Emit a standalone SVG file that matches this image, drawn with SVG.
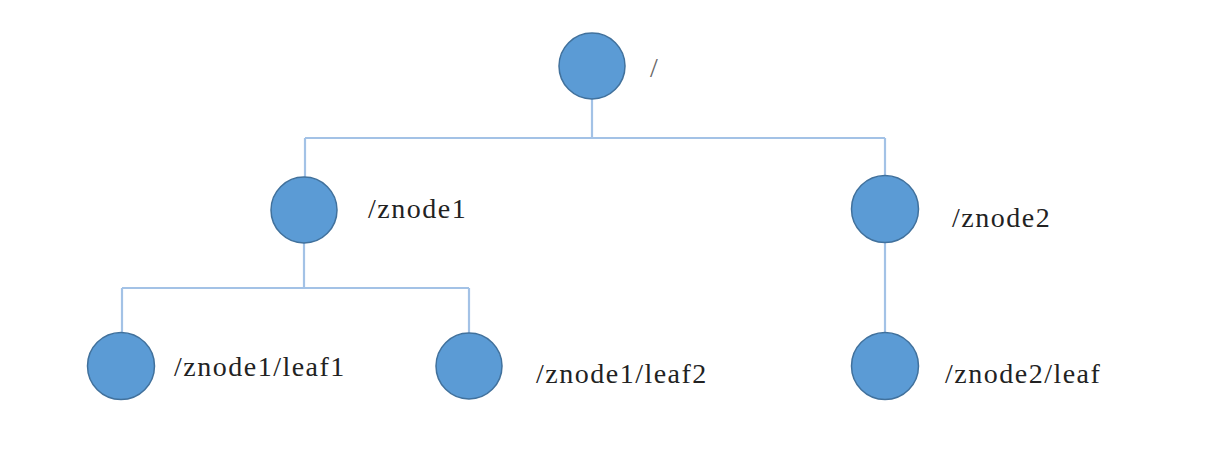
<svg xmlns="http://www.w3.org/2000/svg" width="1207" height="450" viewBox="0 0 1207 450">
<style>
.node{fill:#5B9BD5;stroke:#41719C;stroke-width:1.5}
.lbl{font-size:28px;fill:#222;letter-spacing:1.5px}
.edge{fill:none;stroke:#A3C2E6;stroke-width:2.2}
</style>
<rect width="1207" height="450" fill="#fff"/>
<g id="connectors">
<path class="edge" d="M592,99 V138 M305,138 H885 M305,138 V177 M885,138 V176"/>
<path class="edge" d="M304,243 V288 M122,288 H469 M122,288 V332 M469,288 V333"/>
<path class="edge" d="M885,243 V333"/>
</g>
<g font-family="Liberation Serif, DejaVu Serif, serif">
<g id="root"><circle class="node" cx="592" cy="66" r="33"/><text class="lbl" x="650" y="77" style="fill:#666">/</text></g>
<g id="znode1"><circle class="node" cx="304" cy="210" r="33"/><text class="lbl" x="368" y="218">/znode1</text></g>
<g id="znode2"><circle class="node" cx="885" cy="209" r="33.5"/><text class="lbl" x="952" y="227">/znode2</text></g>
<g id="leaf1"><circle class="node" cx="121" cy="366" r="33.5"/><text class="lbl" x="174" y="376">/znode1/leaf1</text></g>
<g id="leaf2"><circle class="node" cx="469" cy="366" r="33"/><text class="lbl" x="536" y="383">/znode1/leaf2</text></g>
<g id="leaf"><circle class="node" cx="885" cy="366" r="33.5"/><text class="lbl" x="945" y="383">/znode2/leaf</text></g>
</g>
</svg>
